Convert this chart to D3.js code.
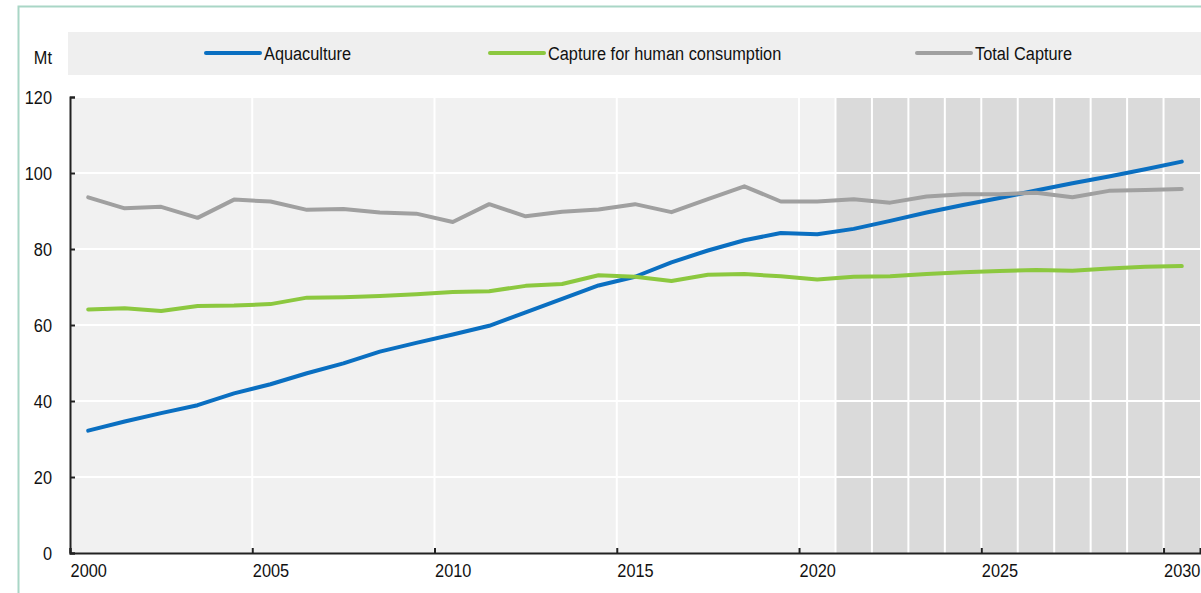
<!DOCTYPE html>
<html>
<head>
<meta charset="utf-8">
<script src="https://cdn.jsdelivr.net/npm/d3@7"></script>
<style>
  body { margin: 0; background: #fff; }
  svg { display: block; font-family: "Liberation Sans", Arial, sans-serif; }
</style>
</head>
<body>
<svg id="chart"></svg>
<script>
// Data (Mt)
const years = d3.range(2000, 2031);
const aquaculture = [32.2, 34.6, 36.8, 38.9, 42.0, 44.4, 47.3, 49.9, 53.0, 55.3,
  57.5, 59.8, 63.3, 66.9, 70.4, 72.7, 76.5, 79.6, 82.3, 84.2,
  83.9, 85.3, 87.4, 89.6, 91.6, 93.4, 95.4, 97.3, 99.1, 101.0, 103.0];
const captureHuman = [64.1, 64.4, 63.7, 65.0, 65.1, 65.5, 67.2, 67.3, 67.6, 68.1,
  68.7, 68.9, 70.3, 70.8, 73.1, 72.7, 71.6, 73.2, 73.4, 72.8,
  72.0, 72.7, 72.8, 73.4, 73.9, 74.2, 74.5, 74.3, 74.9, 75.3, 75.5];
const totalCapture = [93.6, 90.7, 91.1, 88.2, 93.0, 92.5, 90.3, 90.5, 89.6, 89.3,
  87.1, 91.8, 88.6, 89.8, 90.4, 91.8, 89.7, 93.1, 96.5, 92.5,
  92.5, 93.1, 92.2, 93.8, 94.4, 94.4, 94.8, 93.6, 95.3, 95.5, 95.8];
const projectionStart = 2021;
const xTicks = [2000, 2005, 2010, 2015, 2020, 2025, 2030];
const yTicks = [0, 20, 40, 60, 80, 100, 120];

const seriesNames = ["Aquaculture", "Capture for human consumption", "Total Capture"];
const seriesColors = ["#0a6fc1", "#8cc83f", "#a0a0a0"];

const W = 1201, H = 593;
const margin = { top: 97, right: 1, bottom: 40, left: 70 };
const narrow = "scale(0.86,1)";

const svg = d3.select("#chart").attr("width", W).attr("height", H);

// frame
svg.append("path")
  .attr("d", `M18.5,${H} V6.5 H${W}`)
  .attr("fill", "none")
  .attr("stroke", "#a9d6c6")
  .attr("stroke-width", 2);

const x = d3.scaleLinear().domain([2000, 2031]).range([margin.left, W - margin.right]);
const y = d3.scaleLinear().domain([0, 120]).range([H - margin.bottom, margin.top]);
const band = x(2001) - x(2000);

// plot background
svg.append("rect")
  .attr("x", x(2000)).attr("y", y(120))
  .attr("width", x(2031) - x(2000)).attr("height", y(0) - y(120))
  .attr("fill", "#f1f1f1");

// projection shading
svg.append("rect")
  .attr("x", x(projectionStart)).attr("y", y(120))
  .attr("width", x(2031) - x(projectionStart)).attr("height", y(0) - y(120))
  .attr("fill", "#dadada");

// gridlines
const grid = svg.append("g").attr("stroke", "#fff").attr("stroke-width", 2);
grid.selectAll(".hgrid")
  .data(yTicks.filter(d => d > 0))
  .join("line")
  .attr("x1", x(2000)).attr("x2", x(2031))
  .attr("y1", d => y(d)).attr("y2", d => y(d));
const vgrid = xTicks.filter(d => d > 2000)
  .concat(d3.range(projectionStart, 2031).filter(d => !xTicks.includes(d)));
grid.selectAll(".vgrid")
  .data(vgrid)
  .join("line")
  .attr("x1", d => x(d)).attr("x2", d => x(d))
  .attr("y1", y(120)).attr("y2", y(0));

// lines
const line = d3.line()
  .x((d, i) => x(years[i] + 0.5))
  .y(d => y(d));

[aquaculture, captureHuman, totalCapture].forEach((s, i) => {
  svg.append("path")
    .datum(s)
    .attr("fill", "none")
    .attr("stroke", seriesColors[i])
    .attr("stroke-width", 4)
    .attr("stroke-linejoin", "round")
    .attr("stroke-linecap", "round")
    .attr("d", line);
});

// axes
const xAxis = d3.axisBottom(x).tickValues(xTicks).tickSize(-5).tickFormat(d3.format("d"));
const xAxisG = svg.append("g")
  .attr("transform", `translate(0,${y(0)})`)
  .call(xAxis);
xAxisG.selectAll("text")
  .attr("x", 0).attr("y", 0).attr("dy", null)
  .attr("transform", `translate(${band / 2},24) ${narrow}`);

const yAxis = d3.axisLeft(y).tickValues(yTicks).tickSize(-5);
const yAxisG = svg.append("g")
  .attr("transform", `translate(${x(2000)},0)`)
  .call(yAxis);
yAxisG.selectAll("text")
  .attr("x", 0)
  .attr("transform", `translate(-18,0) ${narrow}`);

[xAxisG, yAxisG].forEach(g => {
  g.select(".domain").attr("stroke", "#222").attr("stroke-width", 2);
  g.selectAll(".tick line").attr("stroke", "#222").attr("stroke-width", 2);
  g.selectAll("text").attr("font-size", 19).attr("fill", "#111")
    .attr("font-family", "'Liberation Sans', Arial, sans-serif");
});

// unit label
svg.append("text")
  .attr("text-anchor", "end")
  .attr("transform", `translate(52,64) ${narrow}`)
  .attr("font-size", 19)
  .attr("fill", "#111")
  .text("Mt");

// legend
svg.append("rect")
  .attr("x", 68).attr("y", 32)
  .attr("width", W - 68).attr("height", 43)
  .attr("fill", "#efefef");

const legendX = [206, 490, 917];
const legend = svg.selectAll(".legend-item")
  .data(seriesNames)
  .join("g")
  .attr("class", "legend-item")
  .attr("transform", (d, i) => `translate(${legendX[i]},53)`);
legend.append("line")
  .attr("x1", 0).attr("x2", 54)
  .attr("stroke", (d, i) => seriesColors[i])
  .attr("stroke-width", 4)
  .attr("stroke-linecap", "round");
legend.append("text")
  .attr("transform", `translate(58,7) ${narrow}`)
  .attr("font-size", 19)
  .attr("fill", "#111")
  .text(d => d);
</script>
</body>
</html>
